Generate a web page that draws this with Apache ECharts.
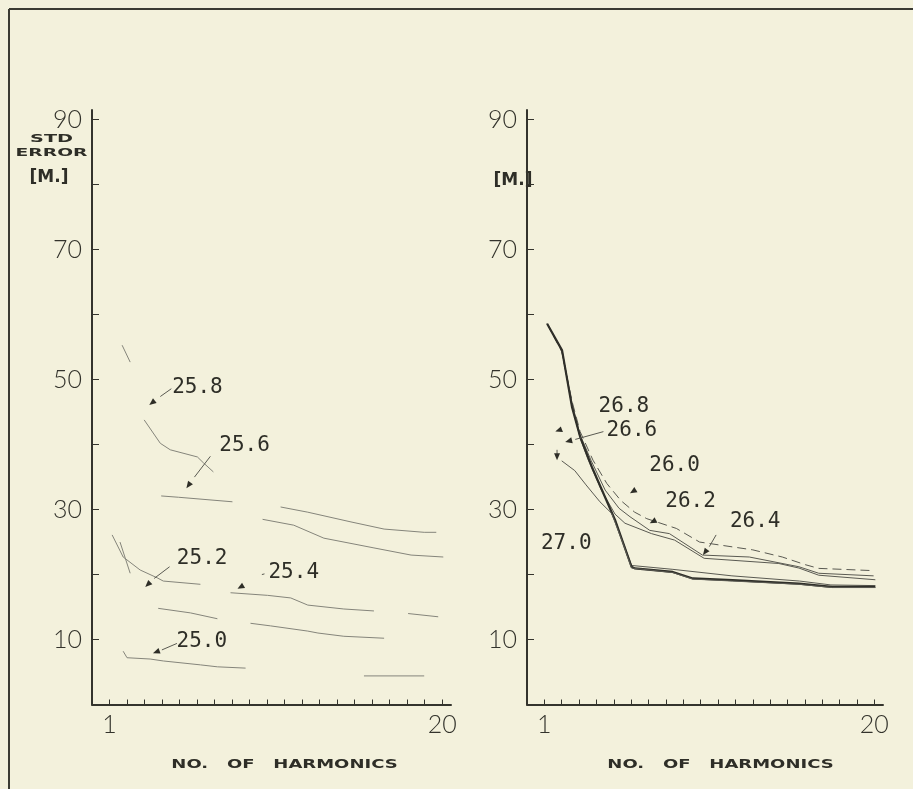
<!DOCTYPE html>
<html><head><meta charset="utf-8">
<script src="https://cdn.jsdelivr.net/npm/echarts@6/dist/echarts.min.js"></script>
<style>html,body{margin:0;padding:0;background:#f3f1dc;}#c{width:913px;height:789px;}</style>
</head><body><div id="c"></div>
<script>
// ---------- axis ticks / labels ----------
const xTickValues = [1,2,3,4,5,6,7,8,9,10,11,12,13,14,15,16,17,18,19,20];
const xLabelValues = [1, 20];
const yTickValues = [10,20,30,40,50,60,70,80,90];
const yLabelValues = [10,30,50,70,90];

// ---------- left panel curves (harmonics, std error m) ----------
const left258 = [[1.72,55.3],[2.18,52.7],[2.5,'-'],[2.98,43.8],[3.9,40.2],[4.47,39.2],[6.02,38.1],[6.36,37.2],[6.93,35.8],[8.5,'-'],[10.77,30.4],[12.32,29.6],[14.79,28.1],[16.68,27.0],[18.97,26.5],[19.66,26.5]];
const left256 = [[3.95,32.1],[4.93,31.9],[8.02,31.2],[9.0,'-'],[9.74,28.5],[11.52,27.6],[13.24,25.6],[16.1,24.1],[18.22,23.0],[20.06,22.7]];
const left254 = [[1.15,26.1],[1.78,22.7],[2.75,20.7],[3.72,19.5],[4.07,19.0],[6.19,18.5],[7.0,'-'],[7.91,17.2],[10.03,16.8],[11.35,16.4],[12.32,15.3],[14.38,14.7],[16.1,14.4],[17.0,'-'],[18.05,14.0],[19.77,13.5]];
const left252 = [[1.6,25.0],[2.18,20.2],[3.0,'-'],[3.78,14.8],[5.62,14.1],[7.16,13.2],[8.0,'-'],[9.05,12.5],[10.2,12.1],[12.32,11.3],[12.9,11.0],[14.38,10.5],[16.68,10.2]];
const left250 = [[1.78,8.2],[2.0,7.2],[3.32,7.0],[4.07,6.7],[6.19,6.1],[7.16,5.8],[8.77,5.6],[12.0,'-'],[15.53,4.4],[18.97,4.4]];

// ---------- right panel curves ----------
const right262 = [[1.16,58.6],[2.0,54.3],[2.6,46.6],[3.06,42.0],[3.8,37.6],[4.6,34.0],[5.4,31.4],[6.2,29.6],[6.9,28.6],[8.6,27.1],[9.94,25.0],[13.0,23.8],[14.7,22.7],[16.05,21.5],[16.8,20.95],[19.96,20.6]];
const right264 = [[1.16,58.6],[2.0,54.5],[2.6,46.3],[3.06,41.5],[3.7,37.5],[4.5,33.0],[5.3,30.2],[5.93,28.9],[7.07,26.8],[8.2,26.3],[10.1,23.0],[12.8,22.7],[15.66,21.2],[16.8,20.2],[19.96,19.8]];
const right260 = [[1.16,58.6],[2.0,54.6],[2.6,46.0],[3.06,41.0],[3.5,37.8],[4.3,32.9],[5.07,29.3],[5.64,27.9],[7.17,26.3],[8.5,25.3],[10.2,22.5],[14.5,21.7],[15.66,21.0],[16.8,19.9],[20.06,19.2]];
const right266 = [[1.16,58.6],[2.02,54.5],[2.59,45.8],[3.06,41.2],[3.73,36.6],[5.07,28.4],[6.02,21.4],[8.4,20.8],[11.8,19.8],[15.7,19.0],[17.5,18.4],[20.06,18.3]];
const right268 = [[1.16,58.6],[2.02,54.5],[2.59,45.8],[3.06,41.2],[3.73,36.6],[5.07,28.4],[6.02,21.2],[6.2,20.95],[8.4,20.4],[9.55,19.4],[11.84,19.15],[15.66,18.6],[17.57,18.1],[20.06,18.1]];
const right270 = [[2.0,37.5],[2.75,36.0],[3.4,33.8],[4.2,31.2],[4.88,29.4],[5.5,25.0],[6.02,21.0],[8.4,20.3],[9.55,19.3],[11.84,19.0],[15.66,18.5],[17.57,18.0],[20.06,18.0]];

// ---------- annotations (data units) ----------
const leftLabels   = ['25.8','25.6','25.2','25.4','25.0'];
const leftLabelPos = [[6.02,48.8],[8.71,39.9],[6.29,22.5],[11.52,20.3],[6.27,9.7]];
const leftLeaders  = [[4.53,48.6,3.9,47.4],[6.76,38.2,5.85,35.0],[4.43,21.2,3.55,19.4],[9.85,20.1,9.7,20.0],[4.85,9.4,3.99,8.4]];
const leftArrows   = [[3.27,46.1],[5.39,33.3],[3.04,18.1],[8.31,17.8],[3.48,7.9]];

const rightLabels   = ['26.8','26.6','26.0','26.2','26.4','27.0'];
const rightLabelPos = [[5.58,45.9],[6.04,42.1],[8.5,36.8],[9.42,31.2],[13.14,28.15],[2.26,24.8]];
const rightLeaders  = [null,[4.4,42.0,2.78,40.8],null,null,[10.89,26.1,10.5,24.3],[1.73,39.2,1.73,38.3]];
const rightArrows   = [[1.63,42.0],[2.2,40.4],[5.93,32.5],[7.07,27.9],[10.13,23.0],[1.73,37.6]];

const INK = '#2e2e27';
const AXIS = '#34342d';
const TICKFONT = 'Lato';

function annRender(labels, pos, leaders, arrows){
  return function(params, api){
    const i = params.dataIndex;
    const ch = [];
    const tp = api.coord(pos[i]);
    ch.push({type:'text', style:{text:labels[i], x:tp[0], y:tp[1], align:'center', verticalAlign:'middle',
      font:'21px "DejaVu Sans Mono"', fill:INK}});
    let from = tp;
    if (leaders[i]){
      const l = leaders[i];
      const p1 = api.coord([l[0],l[1]]), p2 = api.coord([l[2],l[3]]);
      ch.push({type:'line', shape:{x1:p1[0],y1:p1[1],x2:p2[0],y2:p2[1]}, style:{stroke:'#5a5a52', lineWidth:1}});
      from = p2;
    }
    const ap = api.coord(arrows[i]);
    const ang = Math.atan2(ap[1]-from[1], ap[0]-from[0]);
    const L = 7, W = 3;
    const bx = ap[0]-L*Math.cos(ang), by = ap[1]-L*Math.sin(ang);
    const nx = -Math.sin(ang)*W, ny = Math.cos(ang)*W;
    ch.push({type:'polygon', shape:{points:[[ap[0],ap[1]],[bx+nx,by+ny],[bx-nx,by-ny]]}, style:{fill:INK}});
    return {type:'group', children:ch};
  };
}

function xAxisDef(gi){
  return {type:'value', gridIndex:gi, min:0, max:20.5,
    axisLine:{show:true, onZero:false, lineStyle:{color:AXIS, width:2}},
    axisTick:{show:true, inside:true, length:5, customValues:xTickValues, lineStyle:{color:AXIS, width:1}},
    axisLabel:{show:true, customValues:xLabelValues, margin:8, color:'#33332c', fontFamily:TICKFONT, fontWeight:300, fontSize:25},
    splitLine:{show:false}};
}
function yAxisDef(gi){
  return {type:'value', gridIndex:gi, min:0, max:91.5,
    axisLine:{show:true, onZero:false, lineStyle:{color:AXIS, width:2}},
    axisTick:{show:true, inside:true, length:7, customValues:yTickValues, lineStyle:{color:AXIS, width:1}},
    axisLabel:{show:true, customValues:yLabelValues, margin:10, color:'#33332c', fontFamily:TICKFONT, fontWeight:300, fontSize:25},
    splitLine:{show:false}};
}
function lineSeries(name, data, gi, color, width, type){
  return {type:'line', name:name, data:data, xAxisIndex:gi, yAxisIndex:gi, showSymbol:false, symbol:'none',
    connectNulls:false, lineStyle:{color:color, width:width, type:type||'solid'}, silent:true, z:3};
}

const LG = '#85857b';
const RG = '#5a5a52';

const chart = echarts.init(document.getElementById('c'), null, {renderer:'canvas'});
chart.setOption({
  backgroundColor:'#f3f1dc',
  animation:false,
  grid:[
    {left:92, top:110, width:359, height:594.5},
    {left:527, top:110, width:356, height:594.5}
  ],
  xAxis:[xAxisDef(0), xAxisDef(1)],
  yAxis:[yAxisDef(0), yAxisDef(1)],
  series:[
    lineSeries('25.8', left258, 0, LG, 1),
    lineSeries('25.6', left256, 0, LG, 1),
    lineSeries('25.4', left254, 0, LG, 1),
    lineSeries('25.2', left252, 0, LG, 1),
    lineSeries('25.0', left250, 0, LG, 1),
    lineSeries('26.2', right262, 1, RG, 1, [9,5]),
    lineSeries('26.4', right264, 1, RG, 1),
    lineSeries('26.0', right260, 1, RG, 1),
    lineSeries('26.6', right266, 1, RG, 1),
    lineSeries('26.8', right268, 1, '#2f2f29', 2.2),
    lineSeries('27.0', right270, 1, RG, 1),
    {type:'custom', xAxisIndex:0, yAxisIndex:0, data:leftLabelPos, clip:false, silent:true, z:5,
      renderItem:annRender(leftLabels, leftLabelPos, leftLeaders, leftArrows)},
    {type:'custom', xAxisIndex:1, yAxisIndex:1, data:rightLabelPos, clip:false, silent:true, z:5,
      renderItem:annRender(rightLabels, rightLabelPos, rightLeaders, rightArrows)}
  ],
  graphic:[
    {type:'line', shape:{x1:9, y1:9, x2:913, y2:9}, style:{stroke:'#3b3b33', lineWidth:2}},
    {type:'line', shape:{x1:9, y1:9, x2:9, y2:789}, style:{stroke:'#3b3b33', lineWidth:2}},
    {type:'text', x:51.5, y:139, scaleX:1.75,
      style:{text:'STD', align:'center', verticalAlign:'middle', font:'bold 11px "DejaVu Sans"', fill:INK}},
    {type:'text', x:51.5, y:153, scaleX:1.7,
      style:{text:'ERROR', align:'center', verticalAlign:'middle', font:'bold 11px "DejaVu Sans"', fill:INK}},
    {type:'text', x:49, y:178,
      style:{text:'[M.]', align:'center', verticalAlign:'middle', font:'bold 17px "DejaVu Sans"', fill:INK}},
    {type:'text', x:513, y:181,
      style:{text:'[M.]', align:'center', verticalAlign:'middle', font:'bold 17px "DejaVu Sans"', fill:INK}},
    {type:'text', x:284.5, y:765, scaleX:1.5,
      style:{text:'NO.   OF   HARMONICS', align:'center', verticalAlign:'middle', font:'bold 12px "DejaVu Sans"', fill:INK}},
    {type:'text', x:720.5, y:765, scaleX:1.5,
      style:{text:'NO.   OF   HARMONICS', align:'center', verticalAlign:'middle', font:'bold 12px "DejaVu Sans"', fill:INK}}
  ]
});
</script>
</body></html>
